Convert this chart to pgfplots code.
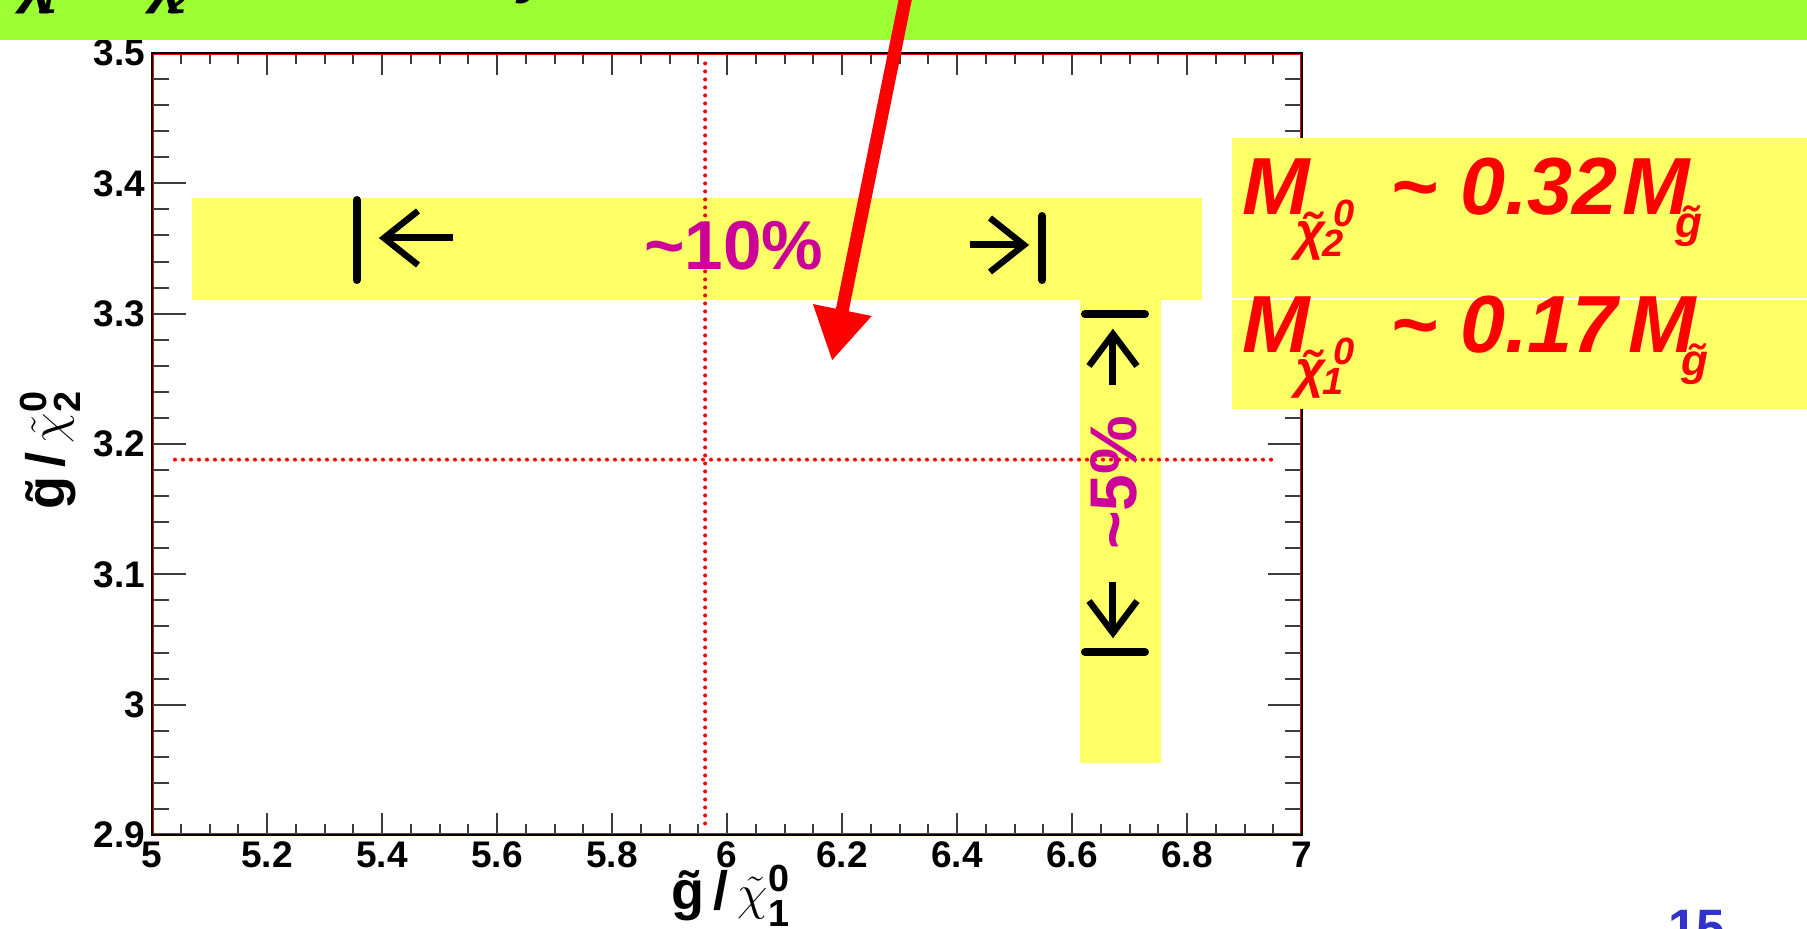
\documentclass[border=0pt]{standalone}
\usepackage{fontspec}
\setmainfont{Liberation Sans}
\usepackage{amsmath}
\usepackage{graphicx}
\usepackage{pgfplots}
\pgfplotsset{compat=1.18}
\usetikzlibrary{arrows.meta}
\definecolor{lgreen}{RGB}{155,255,51}
\definecolor{hyellow}{RGB}{255,255,102}
\definecolor{mag}{RGB}{204,0,153}
\definecolor{sblue}{RGB}{51,51,204}
\definecolor{tickgray}{RGB}{60,60,60}
\newcommand\tld[1]{{\accent"02DC #1}}
\newcommand\fs[1]{\fontsize{#1}{#1}\selectfont}
\begin{document}
\begin{tikzpicture}
\path[use as bounding box] (0,0) rectangle (903.5bp,464.5bp);
\clip (0,0) rectangle (903.5bp,464.5bp);
\fill[white] (0,0) rectangle (903.5bp,464.5bp);
\pgfplotsset{myax/.style={at={(76bp,47bp)}, anchor=south west, scale only axis,
  width=575bp, height=391bp, xmin=5, xmax=7, ymin=2.9, ymax=3.5,
  tick align=inside, tick pos=both,
  axis line style={black, line width=1.3bp},
  tick style={tickgray, line width=1bp},
  /pgf/number format/assume math mode=true,
  ticklabel style={font=\fs{18.5bp}\bfseries}}}
% axis 1: x ticks
\begin{axis}[myax, xtick={5,5.2,5.4,5.6,5.8,6,6.2,6.4,6.6,6.8,7},
  minor x tick num=3, ytick=\empty,
  major tick length=11bp, minor tick length=5.5bp]
\end{axis}
% axis 2: y ticks
\begin{axis}[myax, xtick=\empty, ytick={2.9,3,3.1,3.2,3.3,3.4,3.5},
  minor y tick num=4,
  major tick length=17bp, minor tick length=8.5bp]
\end{axis}
\begin{scope}[x=0.5bp,y=-0.5bp,yshift=464.5bp]
\draw[red, line width=0.6bp] (153.5,54.5) rectangle (1300.5,833.5);
% yellow boxes
\fill[hyellow] (192,198) rectangle (1202,300);
\fill[hyellow] (1080,300) rectangle (1161,763);
\fill[hyellow] (1232,138) rectangle (1807,298);
\fill[hyellow] (1232,300) rectangle (1807,409);
\end{scope}
% axis 3: dotted lines
\begin{axis}[myax, hide axis]
\addplot[red, line width=2bp, line cap=round, dash pattern=on 0bp off 4bp]
  coordinates {(5.962,3.492) (5.962,2.905)};
\addplot[red, line width=2bp, line cap=round, dash pattern=on 0bp off 4bp]
  coordinates {(5.04,3.188) (6.955,3.188)};
\end{axis}
\begin{scope}[x=0.5bp,y=-0.5bp,yshift=464.5bp]
% banner
\fill[lgreen] (0,0) rectangle (1807,40);
\node[anchor=base west, inner sep=0] at (20,2) {\fs{30bp}\bfseries\itshape χ};
\node[anchor=base west, inner sep=0] at (38,14) {\fs{16bp}\bfseries\itshape 1};
\node[anchor=base west, inner sep=0] at (150,2) {\fs{30bp}\bfseries\itshape χ};
\node[anchor=base west, inner sep=0] at (168,14) {\fs{16bp}\bfseries\itshape 2};
\node[anchor=base west, inner sep=0] at (518,-8) {\fs{30bp}\bfseries\itshape y};
% black bars and arrows
\draw[line width=4bp, line cap=round] (357,200) -- (357,280);
\draw[line width=3.5bp] (453,238) -- (386,238);
\draw[line width=3.2bp, line join=miter] (418,211) -- (384,238) -- (418,265);
\draw[line width=3.5bp] (970,245) -- (1022,245);
\draw[line width=3.2bp, line join=miter] (990,218) -- (1024,245) -- (990,272);
\draw[line width=4bp, line cap=round] (1042,216) -- (1042,280);
\draw[line width=4bp, line cap=round] (1085,314) -- (1145,314);
\draw[line width=3.5bp] (1113,337) -- (1113,385);
\draw[line width=3.2bp, line join=miter] (1089,366) -- (1113,334) -- (1137,366);
\draw[line width=3.5bp] (1113,582) -- (1113,630);
\draw[line width=3.2bp, line join=miter] (1089,601) -- (1113,633) -- (1137,601);
\draw[line width=4bp, line cap=round] (1085,652) -- (1145,652);
% magenta texts
\node[anchor=base west, inner sep=0, text=mag] at (644,270) {\fs{34.6bp}\bfseries\textasciitilde 10\%};
\node[anchor=base west, inner sep=0, text=mag, rotate=90] at (1137,550) {\fs{33bp}\bfseries\textasciitilde 5\%};
% red mass relations
\begin{scope}[every node/.style={anchor=base west, inner sep=0, text=red}]
\node at (1242,215) {\fs{40.5bp}\bfseries\itshape M};
\node at (1295,250) {\fs{26bp}\bfseries\itshape \tld{χ}};
\node at (1322,257) {\fs{19bp}\bfseries\itshape 2};
\node at (1333,227) {\fs{19bp}\bfseries\itshape 0};
\node at (1390,215) {\fs{40.5bp}\bfseries\itshape \textasciitilde};
\node at (1460,215) {\fs{40.5bp}\bfseries\itshape 0.32};
\node at (1622,215) {\fs{40.5bp}\bfseries\itshape M};
\node at (1675,238) {\fs{22bp}\bfseries\itshape \tld{g}};
\node at (1242,353) {\fs{40.5bp}\bfseries\itshape M};
\node at (1295,388) {\fs{26bp}\bfseries\itshape \tld{χ}};
\node at (1322,395) {\fs{19bp}\bfseries\itshape 1};
\node at (1333,365) {\fs{19bp}\bfseries\itshape 0};
\node at (1390,353) {\fs{40.5bp}\bfseries\itshape \textasciitilde};
\node at (1460,353) {\fs{40.5bp}\bfseries\itshape 0.17};
\node at (1628,353) {\fs{40.5bp}\bfseries\itshape M};
\node at (1681,376) {\fs{22bp}\bfseries\itshape \tld{g}};
\end{scope}
% axis titles
\node[anchor=base, inner sep=0] at (731,910) {\fs{27bp}\bfseries\tld{g}\,/\,$\tilde{\chi}^{\mathbf{0}}_{\mathbf{1}}$};
\node[anchor=base, inner sep=0, rotate=90] at (64,450) {\fs{27bp}\bfseries\tld{g}\,/\,$\tilde{\chi}^{\mathbf{0}}_{\mathbf{2}}$};
% page number
\node[anchor=base west, inner sep=0, text=sblue] at (1668,946) {\fs{25.6bp}\bfseries 15};
% red arrow
\draw[red, line width=6.5bp, -{Triangle[length=26bp, width=28bp]}] (906,-4) -- (832,361);
\end{scope}
\end{tikzpicture}
\end{document}
